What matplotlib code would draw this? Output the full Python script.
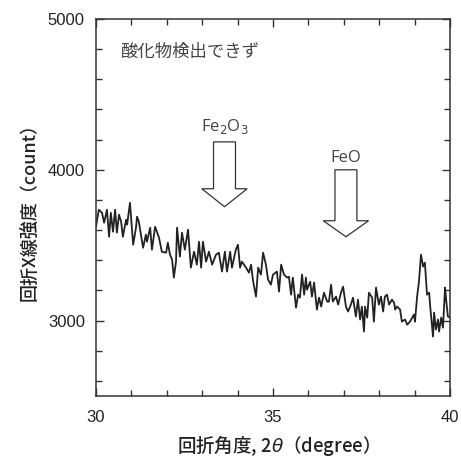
import matplotlib
matplotlib.use("Agg")
import matplotlib.pyplot as plt
from matplotlib.patches import Polygon

plt.rcParams['font.family'] = ['Liberation Sans', 'Noto Sans CJK JP', 'DejaVu Sans']

two_theta = [30.00, 30.08, 30.17, 30.23, 30.31, 30.37, 30.42, 30.48, 30.54, 30.59,
             30.65, 30.71, 30.76, 30.85, 30.88, 30.96, 31.05, 31.13, 31.16, 31.21,
             31.27, 31.33, 31.41, 31.44, 31.53, 31.58, 31.67, 31.72, 31.78, 31.86,
             31.98, 32.03, 32.09, 32.15, 32.20, 32.26, 32.29, 32.37, 32.43, 32.51,
             32.60, 32.68, 32.77, 32.85, 32.91, 32.97, 33.02, 33.11, 33.19, 33.28,
             33.39, 33.47, 33.56, 33.64, 33.70, 33.79, 33.84, 33.95, 34.01, 34.07,
             34.12, 34.24, 34.32, 34.38, 34.44, 34.52, 34.58, 34.66, 34.72, 34.80,
             34.86, 34.94, 35.00, 35.11, 35.17, 35.23, 35.31, 35.40, 35.45, 35.51,
             35.56, 35.65, 35.71, 35.76, 35.82, 35.88, 35.93, 35.96, 36.05, 36.10,
             36.16, 36.24, 36.30, 36.36, 36.44, 36.53, 36.58, 36.64, 36.69, 36.78,
             36.84, 36.92, 36.98, 37.06, 37.12, 37.20, 37.26, 37.34, 37.40, 37.46,
             37.51, 37.57, 37.60, 37.66, 37.71, 37.80, 37.85, 37.91, 37.99, 38.05,
             38.11, 38.16, 38.22, 38.28, 38.36, 38.42, 38.45, 38.50, 38.59, 38.64,
             38.73, 38.79, 38.87, 38.98, 39.01, 39.07, 39.12, 39.18, 39.24, 39.29,
             39.35, 39.41, 39.44, 39.52, 39.55, 39.60, 39.66, 39.69, 39.75, 39.80,
             39.86, 39.89, 39.94, 40.00]

counts = [3624, 3735, 3715, 3649, 3735, 3556, 3715, 3589, 3735, 3583,
          3702, 3656, 3556, 3669, 3636, 3781, 3503, 3616, 3689, 3656,
          3570, 3483, 3570, 3523, 3616, 3470, 3622, 3589, 3550, 3457,
          3450, 3516, 3437, 3404, 3285, 3391, 3616, 3424, 3583, 3470,
          3603, 3351, 3457, 3371, 3523, 3351, 3523, 3391, 3457, 3371,
          3437, 3450, 3325, 3457, 3325, 3457, 3351, 3470, 3503, 3351,
          3391, 3351, 3318, 3371, 3258, 3159, 3351, 3305, 3450, 3371,
          3272, 3238, 3305, 3325, 3192, 3371, 3305, 3285, 3291, 3172,
          3285, 3086, 3172, 3152, 3305, 3172, 3285, 3205, 3258, 3159,
          3252, 3073, 3152, 3093, 3185, 3126, 3126, 3238, 3126, 3159,
          3106, 3185, 3225, 3093, 3060, 3106, 3152, 3027, 3139, 3007,
          3093, 2927, 3093, 3020, 3185, 3152, 2993, 3219, 3106, 3159,
          3060, 3159, 3172, 3106, 3139, 3119, 3073, 3093, 3073, 2993,
          3007, 2973, 2993, 3040, 2993, 3159, 3252, 3437, 3358, 3384,
          3172, 3185, 3093, 2894, 3053, 2940, 3007, 2927, 3020, 2953,
          3219, 3139, 3027, 3020]

# arrow annotations: label, x centre, label y, shaft top, head base, tip
arrow_labels = ["Fe$_2$O$_3$", "FeO"]
arrow_x = [33.63, 37.06]
arrow_label_y = [4285, 4080]
arrow_top = [4185, 4000]
arrow_head = [3874, 3662]
arrow_tip = [3755, 3556]
shaft_half = 0.31
head_half = 0.64

fig = plt.figure(figsize=(4.61, 4.57), dpi=100)
ax = fig.add_axes([0.2082, 0.1335, 0.768, 0.825])

ax.plot(two_theta, counts, color='#222222', lw=1.3)

for lab, xc, ly, t, hb, tip in zip(arrow_labels, arrow_x, arrow_label_y,
                                    arrow_top, arrow_head, arrow_tip):
    pts = [(xc - shaft_half, t), (xc + shaft_half, t), (xc + shaft_half, hb),
           (xc + head_half, hb), (xc, tip), (xc - head_half, hb),
           (xc - shaft_half, hb)]
    ax.add_patch(Polygon(pts, closed=True, facecolor='white',
                         edgecolor='#333333', lw=0.9, zorder=3))
    ax.text(xc, ly, lab, ha='center', va='center', fontsize=12,
            color='#444444', family=['Open Sans', 'DejaVu Sans'])

ax.text(30.68, 4780, '酸化物検出できず', ha='left', va='center', fontsize=12.5,
        color='#444444', family=['Noto Sans CJK JP'])

ax.set_xlim(30, 40)
ax.set_ylim(2500, 5000)
ax.set_xticks([30, 35, 40])
ax.set_xticks([31, 32, 33, 34, 36, 37, 38, 39], minor=True)
ax.set_yticks([3000, 4000, 5000])
ax.set_yticks([2600, 2800, 3200, 3400, 3600, 3800, 4200, 4400, 4600, 4800], minor=True)
ax.tick_params(which='both', direction='in', top=True, right=True,
               labelsize=12, colors='#333333', labelcolor='#222222', pad=8)
ax.tick_params(axis='x', which='both', pad=10)
ax.tick_params(which='major', length=6, width=1)
ax.tick_params(which='minor', length=4, width=1)
for s in ax.spines.values():
    s.set_color('#333333')
    s.set_linewidth(1.1)

ax.set_xlabel('回折角度, 2$\\theta$（degree）', fontsize=13.3,
              family=['Noto Sans CJK JP', 'DejaVu Sans'], color='#222222',
              fontweight='medium', labelpad=6)
ax.set_ylabel('回折X線強度（count）', fontsize=13,
              family=['Noto Sans CJK JP', 'DejaVu Sans'], color='#222222',
              fontweight='medium', labelpad=7)

fig.savefig('out.png', dpi=100)
